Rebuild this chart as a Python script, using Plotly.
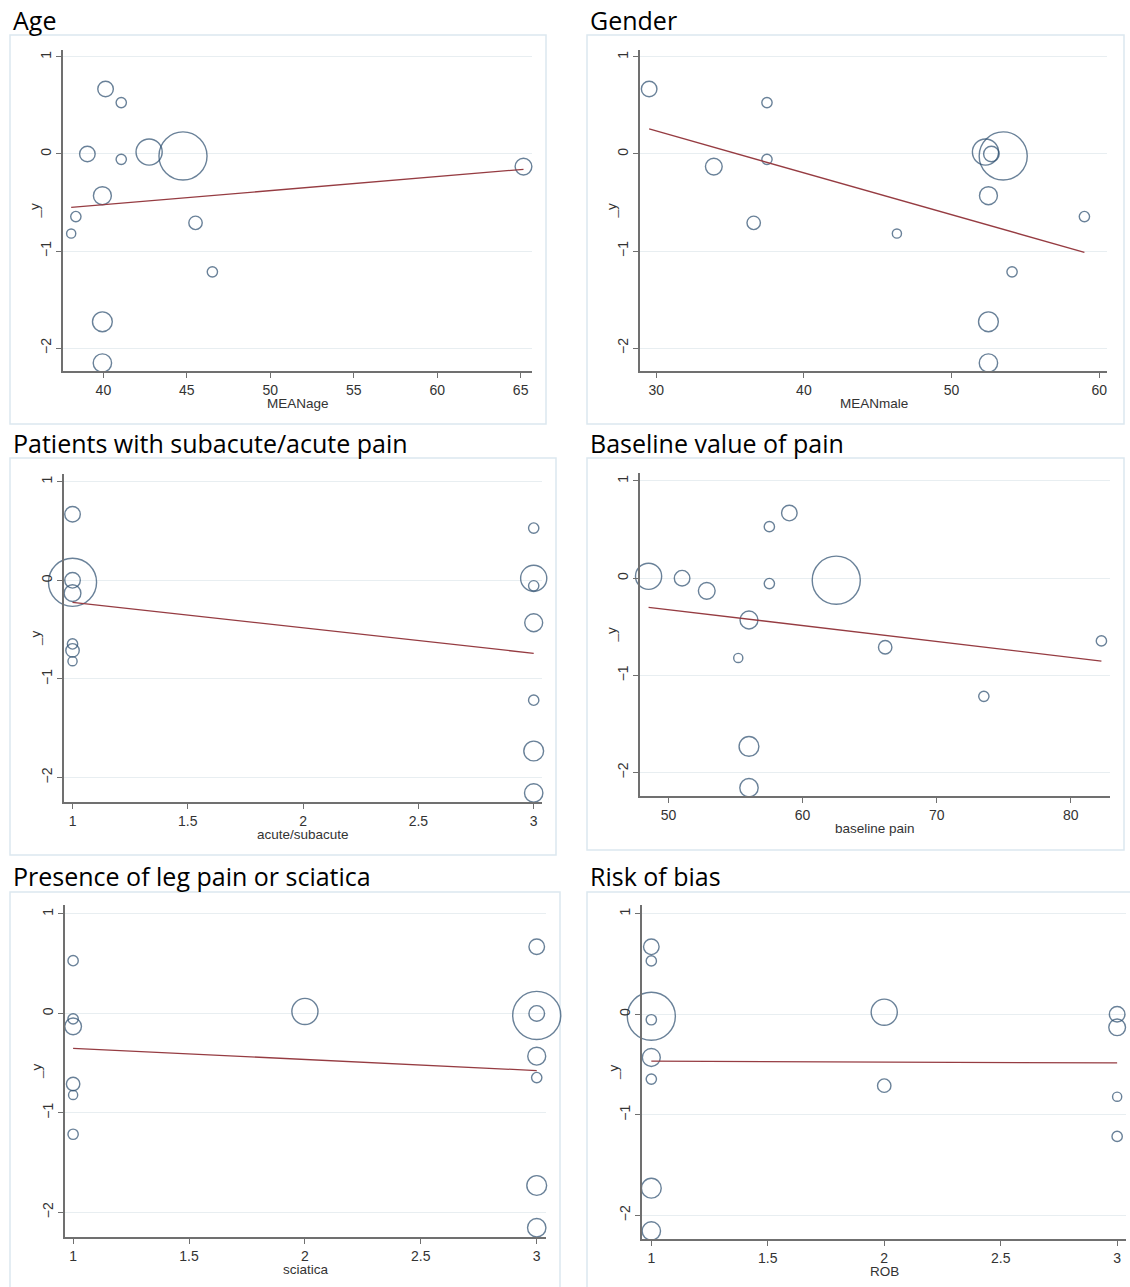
import plotly.graph_objects as go

# ---------------- data ----------------
studies = ["A", "B", "C", "D", "E", "F", "G", "H", "I", "J", "K", "L", "M", "N"]
effect = [0.67, 0.53, 0.00, -0.055, 0.02, -0.02, -0.13, -0.43, -0.645, -0.82, -0.71, -1.215, -1.73, -2.155]
weight = [121, 53, 121, 53, 342, 1156, 140, 161, 53, 42, 90, 53, 196, 169]

mean_age = [40.13, 41.07, 39.04, 41.07, 42.74, 44.77, 65.17, 39.94, 38.35, 38.07, 45.52, 46.53, 39.94, 39.94]
mean_male = [29.52, 37.5, 52.7, 37.5, 52.3, 53.5, 33.9, 52.5, 59.0, 46.3, 36.6, 54.1, 52.5, 52.5]
acute_subacute = [1, 3, 1, 3, 3, 1, 1, 3, 1, 1, 1, 3, 3, 3]
baseline_pain = [59.01, 57.52, 51.01, 57.52, 48.51, 62.51, 52.85, 56.0, 82.29, 55.2, 66.16, 73.52, 56.0, 56.0]
sciatica = [3, 1, 3, 1, 2, 3, 1, 3, 3, 1, 1, 1, 3, 3]
rob = [1, 1, 3, 1, 2, 1, 3, 1, 1, 3, 2, 3, 1, 1]

# fitted (meta-regression) lines: values at the two ends
fit_age_x, fit_age_y = [38.07, 65.17], [-0.55, -0.158]
fit_male_x, fit_male_y = [29.52, 59.0], [0.258, -1.014]
fit_acute_x, fit_acute_y = [1, 3], [-0.223, -0.74]
fit_base_x, fit_base_y = [48.51, 82.29], [-0.299, -0.852]
fit_sci_x, fit_sci_y = [1, 3], [-0.351, -0.575]
fit_rob_x, fit_rob_y = [1, 3], [-0.467, -0.484]

headings = ["Age", "Gender", "Patients with subacute/acute pain", "Baseline value of pain",
            "Presence of leg pain or sciatica", "Risk of bias"]
x_titles = ["MEANage", "MEANmale", "acute/subacute", "baseline pain", "sciatica", "ROB"]
x_ticks_age = [40, 45, 50, 55, 60, 65]
x_ticks_male = [30, 40, 50, 60]
x_ticks_cat = [1, 1.5, 2, 2.5, 3]
x_ticks_base = [50, 60, 70, 80]
y_ticks = [-2, -1, 0, 1]

panel_x = [mean_age, mean_male, acute_subacute, baseline_pain, sciatica, rob]
panel_fit = [(fit_age_x, fit_age_y), (fit_male_x, fit_male_y), (fit_acute_x, fit_acute_y),
             (fit_base_x, fit_base_y), (fit_sci_x, fit_sci_y), (fit_rob_x, fit_rob_y)]
panel_xticks = [x_ticks_age, x_ticks_male, x_ticks_cat, x_ticks_base, x_ticks_cat, x_ticks_cat]

# ---------------- layout geometry (pixels) ----------------
W, H = 1130, 1287
# axes boxes: (left, right, top, bottom)
axes_px = [(63, 532, 50, 371), (640, 1107, 50, 371),
           (64, 542, 474, 802), (640, 1110, 473, 796),
           (65, 546, 905, 1237), (642, 1126, 905, 1239)]
x_ranges = [(37.58, 65.68), (28.9, 60.53), (0.963, 3.036), (47.87, 82.93), (0.965, 3.04), (0.96, 3.038)]
y_ranges = [(-2.237, 1.072), (-2.237, 1.072), (-2.247, 1.078), (-2.24, 1.082), (-2.248, 1.09), (-2.235, 1.086)]
frames_px = [(10, 546, 35, 424), (587, 1124, 35, 424),
             (10, 556, 458, 855), (587, 1124, 458, 850),
             (10, 560, 892, 1300), (587, 1135, 892, 1300)]
heading_px = [(11, 20), (588, 20), (11, 443), (588, 443), (11, 876), (588, 876)]

NAVY = "#2b4d6e"
MAROON = "#963c42"
AXIS = "#707070"
TXT = "#333333"
GRID = "#e8eef1"
FRAME = "#dce8ef"
TICKFONT = dict(family="Liberation Sans, Arial", size=14, color=TXT)
TITLEFONT = dict(family="Liberation Sans, Arial", size=13.5, color=TXT)


def px_x(v):
    return v / W


def px_y(v):
    return 1 - v / H


fig = go.Figure()
layout = dict(width=W, height=H, margin=dict(l=0, r=0, t=0, b=0), autosize=False,
              paper_bgcolor="white", plot_bgcolor="white", showlegend=False)
shapes, annotations = [], []

for i in range(6):
    n = "" if i == 0 else str(i + 1)
    xa, ya = "x" + n, "y" + n
    l, r, t, b = axes_px[i]
    fig.add_trace(go.Scatter(
        x=panel_x[i], y=effect, mode="markers", xaxis=xa, yaxis=ya,
        marker=dict(symbol="circle", size=weight, sizemode="area", sizeref=1,
                    color="rgba(0,0,0,0)", line=dict(color=NAVY, width=1.4)),
        text=studies, hoverinfo="x+y+text", cliponaxis=False))
    fx, fy = panel_fit[i]
    fig.add_trace(go.Scatter(x=fx, y=fy, mode="lines", xaxis=xa, yaxis=ya,
                             line=dict(color=MAROON, width=1.3), hoverinfo="skip"))
    layout["xaxis" + n] = dict(
        domain=[px_x(l), px_x(r)], range=list(x_ranges[i]), anchor=ya,
        showline=True, linecolor=AXIS, linewidth=1.6, ticks="outside", ticklen=5,
        tickwidth=1, tickcolor=AXIS, tickvals=panel_xticks[i], tickfont=TICKFONT,
        showgrid=False, zeroline=False, fixedrange=True)
    layout["yaxis" + n] = dict(
        domain=[px_y(b), px_y(t)], range=list(y_ranges[i]), anchor=xa,
        showline=True, linecolor=AXIS, linewidth=1.6, ticks="outside", ticklen=5,
        tickwidth=1, tickcolor=AXIS, tickvals=y_ticks, tickangle=-90, tickfont=TICKFONT,
        showgrid=True, gridcolor=GRID, gridwidth=1, zeroline=False, fixedrange=True)

    fl, fr, ft, fb = frames_px[i]
    shapes.append(dict(type="rect", xref="paper", yref="paper", layer="below",
                       x0=px_x(fl), x1=px_x(fr), y0=px_y(fb), y1=px_y(ft),
                       line=dict(color=FRAME, width=1.5), fillcolor="rgba(0,0,0,0)"))
    hx, hy = heading_px[i]
    annotations.append(dict(text=headings[i], xref="paper", yref="paper", x=px_x(hx), y=px_y(hy),
                            xanchor="left", yanchor="middle", showarrow=False,
                            font=dict(family="Open Sans", size=25, color="black")))
    annotations.append(dict(text=x_titles[i], xref=xa + " domain", yref=ya + " domain", x=0.5, y=0,
                            yshift=-32, xanchor="center", yanchor="middle", showarrow=False,
                            font=TITLEFONT))
    annotations.append(dict(text="_y", xref=xa + " domain", yref=ya + " domain", x=0, y=0.5,
                            xshift=-29, xanchor="center", yanchor="middle", textangle=-90,
                            showarrow=False, font=TITLEFONT))

layout["shapes"] = shapes
layout["annotations"] = annotations
fig.update_layout(**layout)

fig.write_html("out.html", config={"displayModeBar": False},
               post_script="document.body.style.margin='0';document.body.style.overflow='hidden';")
